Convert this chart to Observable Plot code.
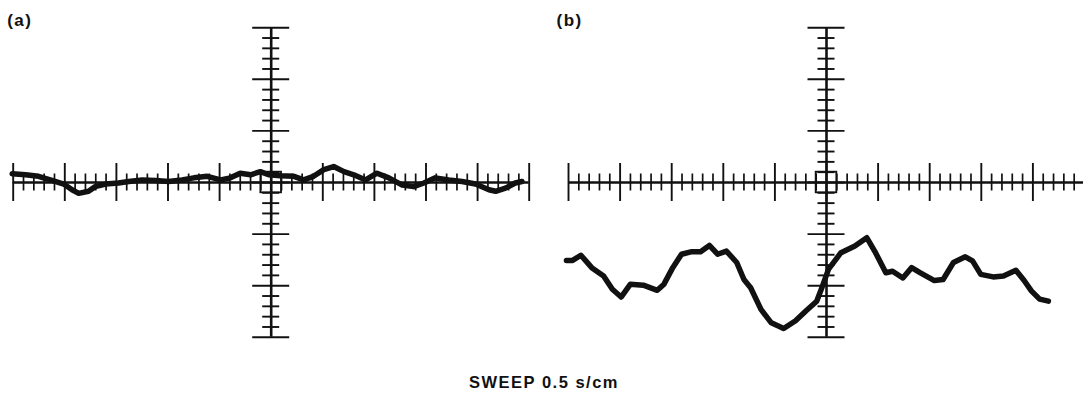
<!DOCTYPE html>
<html>
<head>
<meta charset="utf-8">
<script src="https://cdn.jsdelivr.net/npm/d3@7"></script>
<script src="https://cdn.jsdelivr.net/npm/@observablehq/plot@0.6"></script>
<style>
  html, body { margin: 0; padding: 0; background: #fff; }
  #wrap { position: relative; width: 1083px; height: 393px; overflow: hidden; }
  #caption { position: absolute; left: 469px; top: 374px; font: bold 16.5px "Liberation Sans", Arial, sans-serif; letter-spacing: 1.5px; line-height: 1; white-space: nowrap; color: #111; }
</style>
</head>
<body>
<div id="wrap"><div id="caption">SWEEP 0.5 s/cm</div></div>
<script>
// ---- data (screen divisions, 1 division = 1 cm) ----
const panels = ["a", "b"];
const panelLabels = ["(a)", "(b)"];
const captionText = "SWEEP 0.5 s/cm";

const majorX = [-5, -4, -3, -2, -1, 0, 1, 2, 3, 4, 5];
const majorY = [-3, -2, -1, 0, 1, 2, 3];
const minorStep = 0.2;

// trace (a): sweep position (div), deflection (div)
const traceAx = [-5.02, -4.76, -4.51, -4.25, -4.02, -3.86, -3.73, -3.54, -3.41, -3.21, -2.96, -2.76, -2.50, -2.24, -1.99, -1.73, -1.50, -1.24, -0.98, -0.79, -0.60, -0.40, -0.21, -0.05, 0.18, 0.44, 0.63, 0.82, 1.02, 1.21, 1.41, 1.60, 1.83, 2.05, 2.28, 2.54, 2.76, 2.96, 3.18, 3.44, 3.70, 3.96, 4.22, 4.35, 4.54, 4.73, 4.86];
const traceAy = [0.17, 0.15, 0.12, 0.04, -0.03, -0.14, -0.21, -0.17, -0.08, -0.03, -0.01, 0.02, 0.05, 0.04, 0.02, 0.05, 0.09, 0.12, 0.05, 0.09, 0.18, 0.15, 0.21, 0.15, 0.13, 0.12, 0.05, 0.12, 0.25, 0.31, 0.21, 0.15, 0.05, 0.18, 0.09, -0.05, -0.08, -0.01, 0.09, 0.05, 0.02, -0.03, -0.14, -0.17, -0.11, -0.01, 0.02];

// trace (b)
const traceBx = [-5.04, -4.92, -4.76, -4.55, -4.32, -4.15, -3.98, -3.80, -3.55, -3.28, -3.15, -2.98, -2.81, -2.61, -2.44, -2.27, -2.11, -1.94, -1.74, -1.60, -1.47, -1.27, -1.07, -0.83, -0.60, -0.40, -0.19, -0.09, 0.04, 0.28, 0.55, 0.78, 0.95, 1.15, 1.28, 1.48, 1.65, 1.82, 2.09, 2.26, 2.46, 2.69, 2.83, 2.99, 3.23, 3.43, 3.67, 3.83, 3.97, 4.13, 4.30];
const traceBy = [-1.51, -1.51, -1.41, -1.65, -1.81, -2.07, -2.22, -1.97, -1.99, -2.09, -1.97, -1.65, -1.39, -1.34, -1.34, -1.22, -1.39, -1.33, -1.55, -1.88, -2.04, -2.46, -2.72, -2.83, -2.68, -2.49, -2.30, -2.04, -1.68, -1.36, -1.23, -1.07, -1.36, -1.75, -1.72, -1.85, -1.65, -1.75, -1.90, -1.88, -1.55, -1.44, -1.52, -1.78, -1.83, -1.81, -1.70, -1.90, -2.10, -2.26, -2.30];

// ---- derived tables ----
const minorXOnly = d3.range(-5, 5.0001, minorStep).map(v => +v.toFixed(1)).filter(v => !Number.isInteger(v));
const minorYOnly = d3.range(-3, 3.0001, minorStep).map(v => +v.toFixed(1)).filter(v => !Number.isInteger(v));
const cross = (ps, vs) => ps.flatMap(p => vs.map(v => ({panel: p, v})));
const traceA = traceAx.map((x, i) => ({panel: "a", x, y: traceAy[i]}));
const traceB = traceBx.map((x, i) => ({panel: "b", x, y: traceBy[i]}));

// ---- styling ----
const pxPerDiv = 51.6;
const u = px => px / pxPerDiv;
const ink = "#111";

const chart = Plot.plot({
  width: 1083,
  height: 362,
  marginLeft: 12.7,
  marginRight: -1,
  marginTop: 27.2,
  marginBottom: 25.2,
  style: {background: "#fff", fontFamily: "Liberation Sans, Arial, sans-serif", letterSpacing: "1.5px", overflow: "visible"},
  x: {domain: [-5, 5], axis: null},
  y: {domain: [-3, 3], axis: null},
  fx: {domain: panels, axis: null, paddingInner: 0.0708, paddingOuter: 0, round: false},
  marks: [
    // main axes
    Plot.ruleY(panels, {fx: d => d, y: () => 0, stroke: ink, strokeWidth: 2.6}),
    Plot.ruleX(panels, {fx: d => d, x: () => 0, stroke: ink, strokeWidth: 2.6}),
    // horizontal-axis ticks
    Plot.ruleX(cross(panels, minorXOnly), {fx: "panel", x: "v", y1: -u(8.5), y2: u(8.5), stroke: ink, strokeWidth: 1.7}),
    Plot.ruleX(cross(panels, majorX), {fx: "panel", x: "v", y1: -u(19), y2: u(19), stroke: ink, strokeWidth: 1.9}),
    // vertical-axis ticks
    Plot.ruleY(cross(panels, minorYOnly), {fx: "panel", y: "v", x1: -u(8.5), x2: u(8.5), stroke: ink, strokeWidth: 1.9}),
    Plot.ruleY(cross(panels, majorY), {fx: "panel", y: "v", x1: -u(18.5), x2: u(18.5), stroke: ink, strokeWidth: 1.9}),
    // centre box
    Plot.rect(panels, {fx: d => d, x1: () => -minorStep, x2: () => minorStep, y1: () => -minorStep, y2: () => minorStep, fill: "none", stroke: ink, strokeWidth: 1.8}),
    // traces
    Plot.line(traceA, {fx: "panel", x: "x", y: "y", stroke: ink, strokeWidth: 5.5, strokeLinejoin: "round", strokeLinecap: "round"}),
    Plot.line(traceB, {fx: "panel", x: "x", y: "y", stroke: ink, strokeWidth: 5.5, strokeLinejoin: "round", strokeLinecap: "round"}),
    // panel labels
    Plot.text([panelLabels[0]], {fx: () => panels[0], frameAnchor: "top-left", dx: -6, dy: -7, lineAnchor: "middle", textAnchor: "start", fontSize: 17, fontWeight: "bold", fill: ink}),
    Plot.text([panelLabels[1]], {fx: () => panels[1], frameAnchor: "top-left", dx: -12, dy: -7, lineAnchor: "middle", textAnchor: "start", fontSize: 17, fontWeight: "bold", fill: ink})
  ]
});
const wrap = document.getElementById("wrap");
wrap.insertBefore(chart, wrap.firstChild);
document.getElementById("caption").textContent = captionText;
</script>
</body>
</html>
